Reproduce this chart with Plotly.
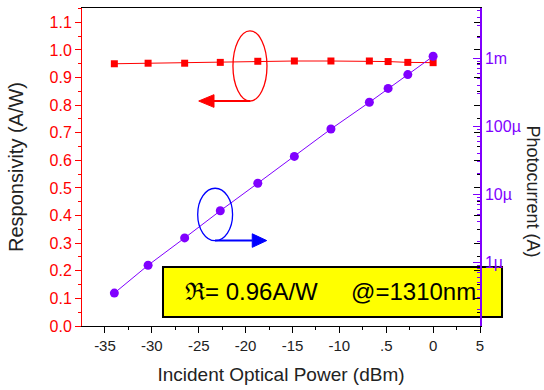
import plotly.graph_objects as go

# ---- data ----
power_dbm = [-34.0, -30.4, -26.5, -22.7, -18.7, -14.8, -10.9, -6.8, -4.8, -2.7, 0.0]
responsivity = [0.950, 0.952, 0.952, 0.955, 0.959, 0.960, 0.960, 0.960, 0.958, 0.955, 0.954]
photocurrent = [3.5e-7, 9.0e-7, 2.27e-6, 5.7e-6, 1.45e-5, 3.6e-5, 9.1e-5, 2.25e-4, 3.6e-4, 5.75e-4, 1.07e-3]

x_tickvals = [-35, -30, -25, -20, -15, -10, -5, 0, 5]
x_ticktext = ["-35", "-30", "-25", "-20", "-15", "-10", ".5", "0", "5"]
i_tickvals = [1e-6, 1e-5, 1e-4, 1e-3]
i_ticktext = ["1\u00b5", "10\u00b5", "100\u00b5", "1m"]
i_minor = [m * 10.0 ** e for e in range(-7, -2) for m in range(2, 10)]

RED = "#ff0000"
PURPLE = "#8000ff"
BLUE = "#0000ff"
FONT = "Arial, Liberation Sans, Helvetica, sans-serif"

fig = go.Figure()
fig.add_trace(go.Scatter(
    x=power_dbm, y=responsivity, mode="lines+markers",
    line=dict(color=RED, width=1),
    marker=dict(symbol="square", size=7, color=RED),
    showlegend=False,
))
fig.add_trace(go.Scatter(
    x=power_dbm, y=photocurrent, yaxis="y2", mode="lines+markers",
    line=dict(color=PURPLE, width=1),
    marker=dict(symbol="circle", size=9, color=PURPLE),
    showlegend=False,
))
# helper trace for mirrored (inward) black ticks on the right edge
fig.add_trace(go.Scatter(x=[None], y=[None], yaxis="y3", showlegend=False, hoverinfo="skip"))

xr = [-37.45, 5]
yr = [0, 1.152]

fig.update_layout(
    width=544, height=390,
    margin=dict(l=82, r=64, t=8, b=64),
    paper_bgcolor="white", plot_bgcolor="rgba(0,0,0,0)",
    font=dict(family=FONT),
    xaxis=dict(
        range=xr, tickmode="array", tickvals=x_tickvals, ticktext=x_ticktext,
        ticks="outside", ticklen=6, tickcolor="black", tickwidth=1,
        minor=dict(ticks="outside", ticklen=3, dtick=2.5, tick0=0, tickcolor="black"),
        showline=True, linecolor="black", linewidth=1, mirror=True,
        showgrid=False, zeroline=False,
        tickfont=dict(size=15, color="#222222"),
        title=dict(text="Incident Optical Power (dBm)", font=dict(size=19, color="#222222"), standoff=14),
    ),
    yaxis=dict(
        range=yr, dtick=0.1, tick0=0, tickformat=".1f",
        ticks="outside", ticklen=6, tickcolor=RED,
        minor=dict(ticks="outside", ticklen=3, dtick=0.05, tickcolor=RED),
        showline=True, linecolor=RED, linewidth=1,
        showgrid=False, zeroline=False,
        tickfont=dict(size=16, color=RED),
        title=dict(text="Responsivity (A/W)", font=dict(size=20, color="#222222"), standoff=20),
    ),
    yaxis2=dict(
        type="log", range=[-6.94, -2.26], overlaying="y", side="right",
        tickmode="array", tickvals=i_tickvals, ticktext=i_ticktext,
        ticks="inside", ticklen=7, tickcolor=PURPLE,
        minor=dict(ticks="inside", ticklen=3, tickmode="array", tickvals=i_minor, tickcolor=PURPLE),
        showline=True, linecolor=PURPLE, linewidth=1.5,
        showgrid=False, zeroline=False,
        tickfont=dict(size=16, color=PURPLE),
    ),
    yaxis3=dict(
        range=yr, overlaying="y", side="right", dtick=0.1, tick0=0,
        ticks="inside", ticklen=6, tickcolor="black", showticklabels=False,
        minor=dict(ticks="inside", ticklen=3, dtick=0.05, tickcolor="black"),
        showline=False, showgrid=False, zeroline=False,
    ),
)

shapes = [
    # yellow label box
    dict(type="rect", xref="paper", yref="paper", x0=0.2035, x1=1.0553, y0=0.0283, y1=0.1855,
         fillcolor="#ffff00", line=dict(color="black", width=2), layer="below"),
    # red ellipse + arrow to the left axis
    dict(type="circle", xref="x", yref="y", x0=-21.35, x1=-17.72, y0=0.815, y1=1.069,
         line=dict(color=RED, width=1.3)),
    dict(type="line", xref="x", yref="y", x0=-19.5, x1=-23.5, y0=0.815, y1=0.815,
         line=dict(color=RED, width=2)),
    dict(type="path", xref="x", yref="y",
         path="M -25.0,0.815 L -23.37,0.838 L -23.37,0.792 Z",
         fillcolor=RED, line=dict(color=RED, width=1)),
    # blue ellipse + arrow to the right axis
    dict(type="circle", xref="x", yref="y", x0=-25.11, x1=-21.39, y0=0.309, y1=0.499,
         line=dict(color=BLUE, width=1.3)),
    dict(type="line", xref="x", yref="y", x0=-23.27, x1=-19.3, y0=0.3095, y1=0.3095,
         line=dict(color=BLUE, width=2)),
    dict(type="path", xref="x", yref="y",
         path="M -17.75,0.3095 L -19.29,0.334 L -19.29,0.285 Z",
         fillcolor=BLUE, line=dict(color=BLUE, width=1)),
]
fig.update_layout(shapes=shapes)

fig.add_annotation(
    xref="paper", yref="paper", x=0.6249, y=0.107, showarrow=False,
    xanchor="center", yanchor="middle",
    text="\u211c= 0.96A/W" + "\u00a0" * 5 + "@=1310nm",
    font=dict(size=24, color="black", family=FONT),
)
fig.add_annotation(
    xref="paper", yref="paper", x=1.132, y=0.4245, showarrow=False,
    xanchor="center", yanchor="middle",
    text="Photocurrent (A)", textangle=90,
    font=dict(size=18, color="#222222", family=FONT),
)

fig.write_html("out.html")
